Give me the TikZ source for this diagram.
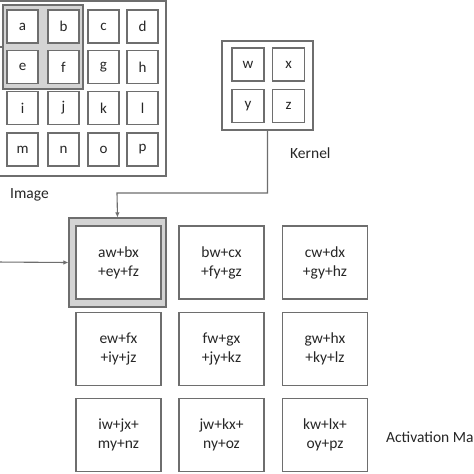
\documentclass[tikz,border=0pt]{standalone}
\usepackage{fontspec}
\setmainfont{Carlito}
\usetikzlibrary{arrows.meta}
\definecolor{ln}{HTML}{6E6E6E}
\definecolor{hl}{HTML}{D4D4D4}
\tikzset{
  cell/.style={draw=ln, line width=1.1pt, fill=white, minimum width=31pt, minimum height=33pt, inner sep=0pt, font=\fontsize{15}{17}\selectfont, text=black!85},
  kcell/.style={cell, minimum width=32pt, minimum height=33pt},
  acell/.style={draw=ln, line width=1.1pt, fill=white, minimum width=85pt, minimum height=73pt, inner sep=0pt, align=center, font=\fontsize{15.5}{19}\selectfont, text=black!85},
  frame/.style={draw=ln, line width=1.1pt},
  conn/.style={draw=ln, line width=1.1pt},
  lab/.style={font=\fontsize{15.5}{18}\selectfont, text=black!85, inner sep=0pt, anchor=west}
}
\begin{document}
\begin{tikzpicture}[x=1pt,y=-1pt]
\useasboundingbox (0,0) rectangle (474,474);
\clip (0,0) rectangle (474,474);
\fill[white] (0,0) rectangle (474,474);
% Image frame
\draw[frame] (-5,1) rectangle (166,176);
\draw[frame, fill=hl] (3,5) rectangle (83,89);
\node[cell] (a) at (22.5,26.5) {a};
\node[cell] (b) at (63.5,26.5) {b};
\node[cell] (c) at (103.5,26.5) {c};
\node[cell] (d) at (142.5,26.5) {d};
\node[cell] (e) at (22.5,67) {e};
\node[cell] (f) at (63.5,67) {f};
\node[cell] (g) at (103.5,67) {g};
\node[cell] (h) at (142.5,67) {h};
\node[cell] (i) at (22.5,108) {i};
\node[cell] (j) at (63.5,108) {j};
\node[cell] (k) at (103.5,108) {k};
\node[cell] (l) at (142.5,108) {l};
\node[cell] (m) at (22.5,149.5) {m};
\node[cell] (n) at (63.5,149.5) {n};
\node[cell] (o) at (103.5,149.5) {o};
\node[cell] (p) at (142.5,149.5) {p};
\coordinate (hlL) at (3,47);
\coordinate (imgIn) at (-5,47);
\draw[conn] (imgIn) -- (hlL);
\node[lab] (imglab) at (10,195) {Image};
% Kernel
\node[frame, minimum width=91pt, minimum height=89pt, inner sep=0pt] (kf) at (267.5,85.5) {};
\node[kcell] (w) at (248,64.5) {w};
\node[kcell] (x) at (288.5,64.5) {x};
\node[kcell] (y) at (248,106) {y};
\node[kcell] (z) at (288.5,106) {z};
\node[lab] (klab) at (290,153) {Kernel};
% Activation map
\node[draw=ln, line width=1.1pt, fill=hl, minimum width=97pt, minimum height=89pt, inner sep=0pt] (a1o) at (117.5,262.5) {};
\node[acell] (a1) at (118.5,262.5) {aw+bx\\+ey+fz};
\node[acell] (a2) at (221.5,262.5) {bw+cx\\+fy+gz};
\node[acell] (a3) at (325,262.5) {cw+dx\\+gy+hz};
\node[acell] (a4) at (118.5,349) {ew+fx\\+iy+jz};
\node[acell] (a5) at (221.5,349) {fw+gx\\+jy+kz};
\node[acell] (a6) at (325,349) {gw+hx\\+ky+lz};
\node[acell] (a7) at (118.5,435) {iw+jx+\\my+nz};
\node[acell] (a8) at (221.5,435) {jw+kx+\\ny+oz};
\node[acell] (a9) at (325,435) {kw+lx+\\oy+pz};
\node[lab] (alab) at (386,438) {Activation Map};
% connectors
\coordinate (inA) at (-5,262);
\draw[conn, -{Latex[length=5pt,width=4.5pt]}] (inA) -- (a1o.west);
\draw[conn, -{Latex[length=5pt,width=4.5pt]}] (kf.south) |- (117,193) -- (a1o.north);
\end{tikzpicture}
\end{document}
